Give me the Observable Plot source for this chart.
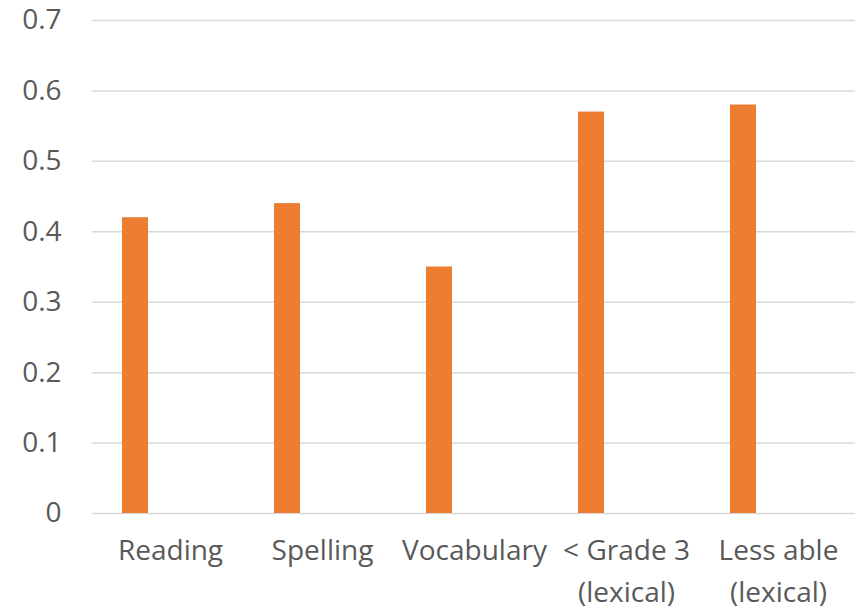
<!DOCTYPE html>
<html>
<head>
<meta charset="utf-8">
<script src="https://cdn.jsdelivr.net/npm/d3@7"></script>
<script src="https://cdn.jsdelivr.net/npm/@observablehq/plot@0.6"></script>
<style>
  html, body { margin: 0; padding: 0; background: #fff; }
  svg { display: block; }
</style>
</head>
<body>
<div id="chart"></div>
<script>
const categories = ["Reading", "Spelling", "Vocabulary", "< Grade 3\n(lexical)", "Less able\n(lexical)"];
const values = [0.42, 0.44, 0.35, 0.57, 0.58];
const yTicks = [0, 0.1, 0.2, 0.3, 0.4, 0.5, 0.6, 0.7];
const yTickLabels = ["0", "0.1", "0.2", "0.3", "0.4", "0.5", "0.6", "0.7"];

const data = categories.map((c, i) => ({category: c, value: values[i]}));

const chart = Plot.plot({
  width: 856,
  height: 609,
  marginLeft: 92,
  marginRight: 1,
  marginTop: 20,
  marginBottom: 96,
  style: {fontFamily: "'Open Sans', sans-serif", fontSize: "28px", color: "#595959", background: "#fff"},
  x: {domain: categories, padding: 0, label: null},
  y: {domain: [0, 0.7], label: null},
  marks: [
    Plot.ruleY(yTicks, {stroke: "#D9D9D9", strokeWidth: 1.5}),
    Plot.barY(data, {x: "category", y: "value", fill: "#ED7D31", insetLeft: 28, insetRight: 98}),
    Plot.axisY({ticks: yTicks, tickFormat: (d) => yTickLabels[yTicks.indexOf(d)], tickSize: 0, tickPadding: 31, fill: "#595959", fontSize: 28}),
    Plot.axisX({tickSize: 0, tickPadding: 17, fill: "#595959", fontSize: 28, lineHeight: 1.5, lineAnchor: "top"})
  ]
});
document.getElementById("chart").appendChild(chart);
</script>
</body>
</html>
